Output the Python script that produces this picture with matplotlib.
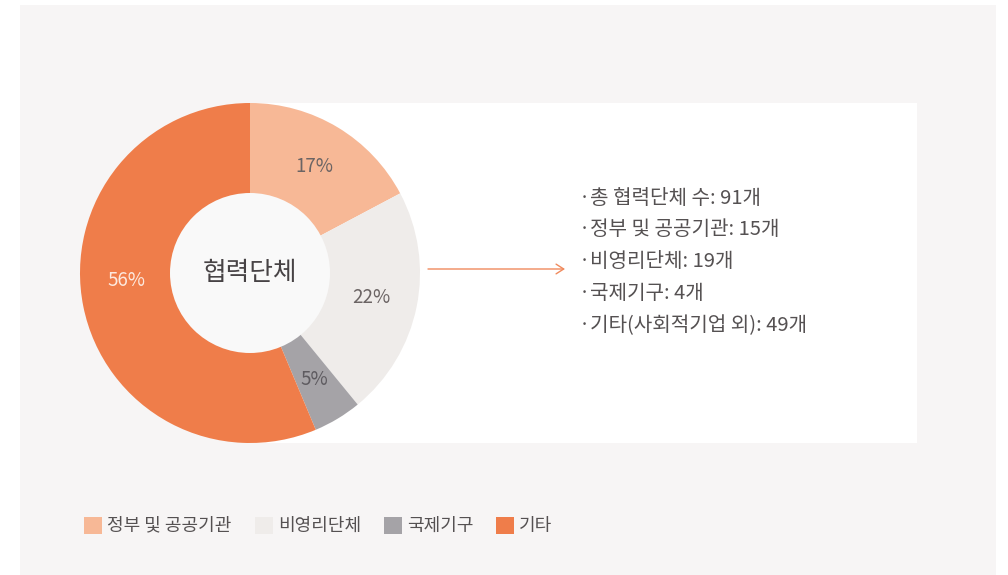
import matplotlib
matplotlib.use("Agg")
import matplotlib.pyplot as plt
from matplotlib.patches import Rectangle, Circle
import numpy as np

plt.rcParams['font.family'] = ['Noto Sans CJK KR', 'DejaVu Sans']

# Partner organisations by type
categories = ['정부 및 공공기관', '비영리단체', '국제기구', '기타']
counts = [15, 19, 4, 49]
total_partners = 91
detail_labels = ['기타(사회적기업 외)' if c == '기타' else c for c in categories]
colors = ['#f7b896', '#efecea', '#a5a3a7', '#ef7d4a']
pct_colors = ['#6b6464', '#6b6464', '#5e5b60', '#fde9de']
center_title = '협력단체'

W, H = 1008, 575
fig = plt.figure(figsize=(W / 100, H / 100), dpi=100)
fig.patch.set_facecolor('white')

# Background layer in pixel coordinates
bg = fig.add_axes([0, 0, 1, 1])
bg.set_xlim(0, W)
bg.set_ylim(H, 0)
bg.axis('off')
bg.add_patch(Rectangle((20, 5), 976, 575, facecolor='#f7f5f5', edgecolor='none'))
bg.add_patch(Rectangle((250, 103), 667, 340, facecolor='white', edgecolor='none'))

# Donut chart
cx, cy, r = 250, 273, 170
pax = fig.add_axes([(cx - r) / W, (H - cy - r) / H, 2 * r / W, 2 * r / H])
wedges, _ = pax.pie(counts, colors=colors, startangle=90, counterclock=False,
                    radius=1.0, wedgeprops=dict(linewidth=0))
pax.set_xlim(-1, 1)
pax.set_ylim(-1, 1)
pax.set_aspect('equal')
pax.axis('off')
pax.add_patch(Circle((0, 0), 80 / r, facecolor='#f9f9f9', edgecolor='none', zorder=3))
pax.text(0, 0, center_title, ha='center', va='center', fontsize=18.5,
         color='#474345', zorder=4)

# Percentage labels; the large wedge keeps its label near the horizontal axis
tot = sum(counts)
start = 90.0
for val, col in zip(counts, pct_colors):
    sweep = 360.0 * val / tot
    mid_deg = start - sweep / 2
    start -= sweep
    if sweep > 180:
        mid_deg = -176.5
    mid = np.deg2rad(mid_deg)
    d = 0.73
    pax.text(d * np.cos(mid), d * np.sin(mid), f'{round(100 * val / tot)}%',
             ha='center', va='center', fontsize=13.5, fontweight='light',
             color=col, zorder=4)

# Arrow to the summary list
bg.annotate('', xy=(565, 269), xytext=(428, 269),
            arrowprops=dict(arrowstyle='->,head_length=0.55,head_width=0.35',
                            color='#f08a5d', lw=1.0, shrinkA=0, shrinkB=0))

# Summary list
lines = [f'총 {center_title} 수: {total_partners}개'] + \
        [f'{lab}: {n}개' for lab, n in zip(detail_labels, counts)]
for i, t in enumerate(lines):
    y = 198 + i * 31.8
    bg.text(579, y, '·', ha='left', va='center', fontsize=14.5, color='#555152')
    bg.text(590, y, t, ha='left', va='center', fontsize=14.5, color='#555152')

# Legend
lx = [84, 255, 384, 496]
for x, lab, col in zip(lx, categories, colors):
    bg.add_patch(Rectangle((x, 517), 18, 17, facecolor=col, edgecolor='none'))
    bg.text(x + 23, 525.5, lab, ha='left', va='center', fontsize=13, color='#555152')

fig.savefig('out.png', dpi=100, facecolor=fig.get_facecolor())
